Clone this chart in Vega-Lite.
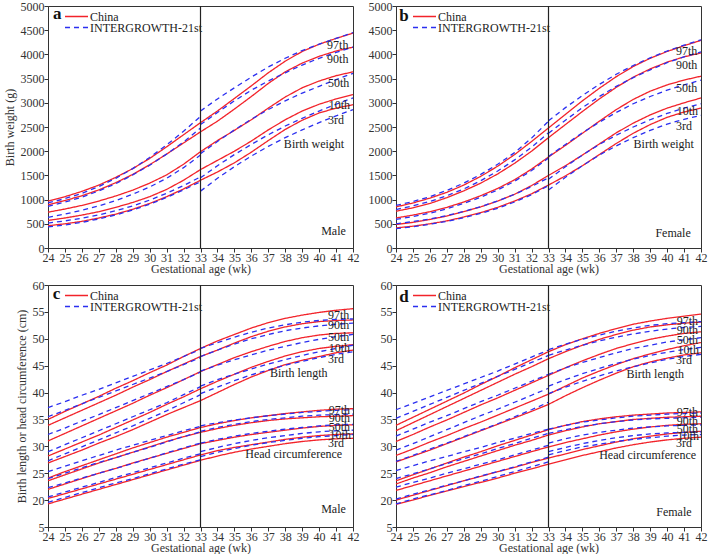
{
"$schema":"https://vega.github.io/schema/vega-lite/v6.json",
"padding":{"left":2,"top":-1,"right":0,"bottom":0},
"columns":2,
"spacing":{"row":3,"column":7},
"resolve":{"scale":{"color":"independent","strokeDash":"independent"},"legend":{"color":"independent","strokeDash":"independent"}},
"config":{
 "font":"Liberation Serif",
 "view":{"stroke":"#333","strokeWidth":1},
 "axis":{"labelFont":"Liberation Serif","titleFont":"Liberation Serif","labelFontSize":12,"titleFontSize":12,"titleFontWeight":"normal","labelColor":"#333","titleColor":"#333","domainColor":"#333","tickColor":"#333","tickSize":4,"labelPadding":0,"titlePadding":0,"grid":false,"labelOverlap":false,"labelFlush":false},
 "legend":{"labelFont":"Liberation Serif","labelFontSize":12,"labelColor":"#222","symbolType":"stroke","symbolSize":530,"symbolStrokeWidth":1.5,"clipHeight":9,"rowPadding":-5,"labelOffset":1,"padding":0,"labelLimit":200},
 "text":{"font":"Liberation Serif"}
},
"datasets":{
"male_weight":[
{"source":"China","segment":"all","week":24,"p3":460,"p10":570,"p50":740,"p90":890,"p97":970},
{"source":"China","segment":"all","week":25,"p3":500,"p10":620,"p50":805,"p90":980,"p97":1060},
{"source":"China","segment":"all","week":26,"p3":550,"p10":680,"p50":880,"p90":1080,"p97":1170},
{"source":"China","segment":"all","week":27,"p3":620,"p10":750,"p50":970,"p90":1200,"p97":1300},
{"source":"China","segment":"all","week":28,"p3":700,"p10":840,"p50":1075,"p90":1350,"p97":1460},
{"source":"China","segment":"all","week":29,"p3":800,"p10":940,"p50":1195,"p90":1520,"p97":1640},
{"source":"China","segment":"all","week":30,"p3":920,"p10":1060,"p50":1340,"p90":1720,"p97":1850},
{"source":"China","segment":"all","week":31,"p3":1060,"p10":1210,"p50":1510,"p90":1940,"p97":2090},
{"source":"China","segment":"all","week":32,"p3":1220,"p10":1400,"p50":1730,"p90":2170,"p97":2340},
{"source":"China","segment":"all","week":33,"p3":1400,"p10":1620,"p50":1990,"p90":2400,"p97":2590},
{"source":"China","segment":"all","week":34,"p3":1570,"p10":1810,"p50":2220,"p90":2620,"p97":2830},
{"source":"China","segment":"all","week":35,"p3":1760,"p10":2000,"p50":2430,"p90":2870,"p97":3090},
{"source":"China","segment":"all","week":36,"p3":1980,"p10":2210,"p50":2650,"p90":3130,"p97":3350},
{"source":"China","segment":"all","week":37,"p3":2220,"p10":2440,"p50":2890,"p90":3400,"p97":3620},
{"source":"China","segment":"all","week":38,"p3":2450,"p10":2650,"p50":3120,"p90":3640,"p97":3860},
{"source":"China","segment":"all","week":39,"p3":2640,"p10":2830,"p50":3310,"p90":3820,"p97":4060},
{"source":"China","segment":"all","week":40,"p3":2790,"p10":2970,"p50":3450,"p90":3960,"p97":4210},
{"source":"China","segment":"all","week":41,"p3":2890,"p10":3080,"p50":3560,"p90":4070,"p97":4330},
{"source":"China","segment":"all","week":42,"p3":2960,"p10":3170,"p50":3640,"p90":4150,"p97":4440},
{"source":"INTERGROWTH-21st","segment":"pre","week":24,"p3":435,"p10":515,"p50":635,"p90":860,"p97":930},
{"source":"INTERGROWTH-21st","segment":"pre","week":25,"p3":475,"p10":560,"p50":700,"p90":950,"p97":1020},
{"source":"INTERGROWTH-21st","segment":"pre","week":26,"p3":530,"p10":615,"p50":780,"p90":1050,"p97":1130},
{"source":"INTERGROWTH-21st","segment":"pre","week":27,"p3":600,"p10":685,"p50":870,"p90":1180,"p97":1270},
{"source":"INTERGROWTH-21st","segment":"pre","week":28,"p3":685,"p10":770,"p50":980,"p90":1330,"p97":1440},
{"source":"INTERGROWTH-21st","segment":"pre","week":29,"p3":785,"p10":870,"p50":1110,"p90":1510,"p97":1640},
{"source":"INTERGROWTH-21st","segment":"pre","week":30,"p3":905,"p10":990,"p50":1260,"p90":1710,"p97":1870},
{"source":"INTERGROWTH-21st","segment":"pre","week":31,"p3":1045,"p10":1130,"p50":1440,"p90":1940,"p97":2130},
{"source":"INTERGROWTH-21st","segment":"pre","week":32,"p3":1200,"p10":1290,"p50":1660,"p90":2190,"p97":2410},
{"source":"INTERGROWTH-21st","segment":"pre","week":33,"p3":1370,"p10":1470,"p50":1920,"p90":2480,"p97":2720},
{"source":"INTERGROWTH-21st","segment":"post","week":33,"p3":1175,"p10":1450,"p50":1950,"p90":2550,"p97":2830},
{"source":"INTERGROWTH-21st","segment":"post","week":34,"p3":1440,"p10":1700,"p50":2200,"p90":2800,"p97":3080},
{"source":"INTERGROWTH-21st","segment":"post","week":35,"p3":1680,"p10":1930,"p50":2440,"p90":3040,"p97":3310},
{"source":"INTERGROWTH-21st","segment":"post","week":36,"p3":1900,"p10":2140,"p50":2660,"p90":3260,"p97":3530},
{"source":"INTERGROWTH-21st","segment":"post","week":37,"p3":2100,"p10":2340,"p50":2860,"p90":3450,"p97":3740},
{"source":"INTERGROWTH-21st","segment":"post","week":38,"p3":2280,"p10":2520,"p50":3040,"p90":3620,"p97":3920},
{"source":"INTERGROWTH-21st","segment":"post","week":39,"p3":2440,"p10":2680,"p50":3200,"p90":3780,"p97":4080},
{"source":"INTERGROWTH-21st","segment":"post","week":40,"p3":2590,"p10":2830,"p50":3340,"p90":3920,"p97":4210},
{"source":"INTERGROWTH-21st","segment":"post","week":41,"p3":2730,"p10":2970,"p50":3480,"p90":4040,"p97":4330},
{"source":"INTERGROWTH-21st","segment":"post","week":42,"p3":2860,"p10":3100,"p50":3610,"p90":4150,"p97":4450}
],
"female_weight":[
{"source":"China","segment":"all","week":24,"p3":415,"p10":485,"p50":620,"p90":760,"p97":850},
{"source":"China","segment":"all","week":25,"p3":450,"p10":530,"p50":680,"p90":830,"p97":930},
{"source":"China","segment":"all","week":26,"p3":500,"p10":590,"p50":750,"p90":920,"p97":1030},
{"source":"China","segment":"all","week":27,"p3":560,"p10":660,"p50":840,"p90":1040,"p97":1150},
{"source":"China","segment":"all","week":28,"p3":640,"p10":750,"p50":950,"p90":1180,"p97":1300},
{"source":"China","segment":"all","week":29,"p3":730,"p10":850,"p50":1080,"p90":1340,"p97":1480},
{"source":"China","segment":"all","week":30,"p3":840,"p10":970,"p50":1230,"p90":1530,"p97":1690},
{"source":"China","segment":"all","week":31,"p3":970,"p10":1110,"p50":1410,"p90":1750,"p97":1930},
{"source":"China","segment":"all","week":32,"p3":1120,"p10":1290,"p50":1630,"p90":2000,"p97":2200},
{"source":"China","segment":"all","week":33,"p3":1300,"p10":1500,"p50":1880,"p90":2280,"p97":2480},
{"source":"China","segment":"all","week":34,"p3":1490,"p10":1700,"p50":2120,"p90":2550,"p97":2760},
{"source":"China","segment":"all","week":35,"p3":1700,"p10":1920,"p50":2370,"p90":2820,"p97":3040},
{"source":"China","segment":"all","week":36,"p3":1930,"p10":2150,"p50":2620,"p90":3080,"p97":3300},
{"source":"China","segment":"all","week":37,"p3":2160,"p10":2380,"p50":2860,"p90":3320,"p97":3540},
{"source":"China","segment":"all","week":38,"p3":2370,"p10":2580,"p50":3070,"p90":3530,"p97":3750},
{"source":"China","segment":"all","week":39,"p3":2550,"p10":2750,"p50":3240,"p90":3700,"p97":3920},
{"source":"China","segment":"all","week":40,"p3":2700,"p10":2890,"p50":3370,"p90":3840,"p97":4060},
{"source":"China","segment":"all","week":41,"p3":2810,"p10":3000,"p50":3470,"p90":3950,"p97":4180},
{"source":"China","segment":"all","week":42,"p3":2890,"p10":3100,"p50":3550,"p90":4030,"p97":4290},
{"source":"INTERGROWTH-21st","segment":"pre","week":24,"p3":400,"p10":500,"p50":590,"p90":795,"p97":880},
{"source":"INTERGROWTH-21st","segment":"pre","week":25,"p3":440,"p10":545,"p50":650,"p90":870,"p97":960},
{"source":"INTERGROWTH-21st","segment":"pre","week":26,"p3":490,"p10":600,"p50":720,"p90":960,"p97":1060},
{"source":"INTERGROWTH-21st","segment":"pre","week":27,"p3":550,"p10":670,"p50":810,"p90":1080,"p97":1190},
{"source":"INTERGROWTH-21st","segment":"pre","week":28,"p3":625,"p10":755,"p50":920,"p90":1220,"p97":1340},
{"source":"INTERGROWTH-21st","segment":"pre","week":29,"p3":715,"p10":855,"p50":1050,"p90":1390,"p97":1520},
{"source":"INTERGROWTH-21st","segment":"pre","week":30,"p3":820,"p10":970,"p50":1200,"p90":1590,"p97":1730},
{"source":"INTERGROWTH-21st","segment":"pre","week":31,"p3":950,"p10":1110,"p50":1380,"p90":1820,"p97":1970},
{"source":"INTERGROWTH-21st","segment":"pre","week":32,"p3":1100,"p10":1270,"p50":1600,"p90":2080,"p97":2270},
{"source":"INTERGROWTH-21st","segment":"pre","week":33,"p3":1290,"p10":1450,"p50":1860,"p90":2380,"p97":2620},
{"source":"INTERGROWTH-21st","segment":"post","week":33,"p3":1200,"p10":1420,"p50":1890,"p90":2370,"p97":2630},
{"source":"INTERGROWTH-21st","segment":"post","week":34,"p3":1460,"p10":1680,"p50":2140,"p90":2640,"p97":2900},
{"source":"INTERGROWTH-21st","segment":"post","week":35,"p3":1700,"p10":1920,"p50":2380,"p90":2900,"p97":3150},
{"source":"INTERGROWTH-21st","segment":"post","week":36,"p3":1920,"p10":2140,"p50":2600,"p90":3130,"p97":3380},
{"source":"INTERGROWTH-21st","segment":"post","week":37,"p3":2110,"p10":2330,"p50":2800,"p90":3340,"p97":3590},
{"source":"INTERGROWTH-21st","segment":"post","week":38,"p3":2280,"p10":2500,"p50":2980,"p90":3520,"p97":3770},
{"source":"INTERGROWTH-21st","segment":"post","week":39,"p3":2430,"p10":2650,"p50":3130,"p90":3680,"p97":3930},
{"source":"INTERGROWTH-21st","segment":"post","week":40,"p3":2560,"p10":2780,"p50":3260,"p90":3830,"p97":4070},
{"source":"INTERGROWTH-21st","segment":"post","week":41,"p3":2660,"p10":2890,"p50":3370,"p90":3950,"p97":4190},
{"source":"INTERGROWTH-21st","segment":"post","week":42,"p3":2740,"p10":2980,"p50":3470,"p90":4050,"p97":4300}
],
"male_size":[
{"source":"China","measure":"L","segment":"all","week":24,"p3":26.9,"p10":28.2,"p50":31.0,"p90":33.9,"p97":35.0},
{"source":"China","measure":"L","segment":"all","week":25,"p3":28.1,"p10":29.5,"p50":32.4,"p90":35.3,"p97":36.5},
{"source":"China","measure":"L","segment":"all","week":26,"p3":29.3,"p10":30.8,"p50":33.8,"p90":36.7,"p97":37.9},
{"source":"China","measure":"L","segment":"all","week":27,"p3":30.6,"p10":32.1,"p50":35.2,"p90":38.1,"p97":39.3},
{"source":"China","measure":"L","segment":"all","week":28,"p3":31.8,"p10":33.5,"p50":36.6,"p90":39.5,"p97":40.8},
{"source":"China","measure":"L","segment":"all","week":29,"p3":33.1,"p10":34.9,"p50":38.0,"p90":41.0,"p97":42.2},
{"source":"China","measure":"L","segment":"all","week":30,"p3":34.5,"p10":36.3,"p50":39.5,"p90":42.4,"p97":43.7},
{"source":"China","measure":"L","segment":"all","week":31,"p3":35.9,"p10":37.8,"p50":40.9,"p90":43.9,"p97":45.1},
{"source":"China","measure":"L","segment":"all","week":32,"p3":37.2,"p10":39.2,"p50":42.4,"p90":45.3,"p97":46.7},
{"source":"China","measure":"L","segment":"all","week":33,"p3":38.5,"p10":40.7,"p50":43.9,"p90":46.7,"p97":48.2},
{"source":"China","measure":"L","segment":"all","week":34,"p3":40.0,"p10":42.1,"p50":45.2,"p90":47.9,"p97":49.6},
{"source":"China","measure":"L","segment":"all","week":35,"p3":41.5,"p10":43.4,"p50":46.5,"p90":49.2,"p97":50.8},
{"source":"China","measure":"L","segment":"all","week":36,"p3":42.9,"p10":44.7,"p50":47.6,"p90":50.4,"p97":52.0},
{"source":"China","measure":"L","segment":"all","week":37,"p3":44.1,"p10":45.8,"p50":48.6,"p90":51.4,"p97":53.0},
{"source":"China","measure":"L","segment":"all","week":38,"p3":45.2,"p10":46.8,"p50":49.5,"p90":52.2,"p97":53.8},
{"source":"China","measure":"L","segment":"all","week":39,"p3":46.0,"p10":47.6,"p50":50.2,"p90":52.8,"p97":54.4},
{"source":"China","measure":"L","segment":"all","week":40,"p3":46.7,"p10":48.2,"p50":50.7,"p90":53.2,"p97":54.9},
{"source":"China","measure":"L","segment":"all","week":41,"p3":47.4,"p10":48.6,"p50":51.0,"p90":53.4,"p97":55.3},
{"source":"China","measure":"L","segment":"all","week":42,"p3":47.9,"p10":48.9,"p50":51.1,"p90":53.5,"p97":55.6},
{"source":"China","measure":"H","segment":"all","week":24,"p3":19.3,"p10":20.3,"p50":22.0,"p90":23.6,"p97":24.1},
{"source":"China","measure":"H","segment":"all","week":25,"p3":20.2,"p10":21.2,"p50":23.0,"p90":24.7,"p97":25.3},
{"source":"China","measure":"H","segment":"all","week":26,"p3":21.1,"p10":22.1,"p50":24.0,"p90":25.8,"p97":26.4},
{"source":"China","measure":"H","segment":"all","week":27,"p3":22.0,"p10":23.0,"p50":25.0,"p90":26.9,"p97":27.5},
{"source":"China","measure":"H","segment":"all","week":28,"p3":22.9,"p10":23.9,"p50":25.9,"p90":27.9,"p97":28.6},
{"source":"China","measure":"H","segment":"all","week":29,"p3":23.8,"p10":24.8,"p50":26.9,"p90":28.9,"p97":29.7},
{"source":"China","measure":"H","segment":"all","week":30,"p3":24.7,"p10":25.7,"p50":27.8,"p90":29.9,"p97":30.7},
{"source":"China","measure":"H","segment":"all","week":31,"p3":25.6,"p10":26.6,"p50":28.7,"p90":30.9,"p97":31.7},
{"source":"China","measure":"H","segment":"all","week":32,"p3":26.5,"p10":27.5,"p50":29.6,"p90":31.8,"p97":32.6},
{"source":"China","measure":"H","segment":"all","week":33,"p3":27.4,"p10":28.4,"p50":30.5,"p90":32.6,"p97":33.5},
{"source":"China","measure":"H","segment":"all","week":34,"p3":28.2,"p10":29.2,"p50":31.1,"p90":33.3,"p97":34.2},
{"source":"China","measure":"H","segment":"all","week":35,"p3":28.9,"p10":29.8,"p50":31.7,"p90":33.9,"p97":34.8},
{"source":"China","measure":"H","segment":"all","week":36,"p3":29.5,"p10":30.3,"p50":32.2,"p90":34.4,"p97":35.3},
{"source":"China","measure":"H","segment":"all","week":37,"p3":30.0,"p10":30.8,"p50":32.6,"p90":34.8,"p97":35.7},
{"source":"China","measure":"H","segment":"all","week":38,"p3":30.5,"p10":31.3,"p50":33.0,"p90":35.1,"p97":36.1},
{"source":"China","measure":"H","segment":"all","week":39,"p3":30.9,"p10":31.7,"p50":33.4,"p90":35.3,"p97":36.4},
{"source":"China","measure":"H","segment":"all","week":40,"p3":31.2,"p10":32.0,"p50":33.7,"p90":35.5,"p97":36.7},
{"source":"China","measure":"H","segment":"all","week":41,"p3":31.4,"p10":32.2,"p50":33.9,"p90":35.6,"p97":36.9},
{"source":"China","measure":"H","segment":"all","week":42,"p3":31.5,"p10":32.3,"p50":34.0,"p90":35.7,"p97":37.0},
{"source":"INTERGROWTH-21st","measure":"L","segment":"pre","week":24,"p3":27.3,"p10":29.0,"p50":32.2,"p90":35.5,"p97":37.2},
{"source":"INTERGROWTH-21st","measure":"L","segment":"pre","week":25,"p3":28.6,"p10":30.3,"p50":33.4,"p90":36.7,"p97":38.3},
{"source":"INTERGROWTH-21st","measure":"L","segment":"pre","week":26,"p3":29.9,"p10":31.6,"p50":34.7,"p90":37.9,"p97":39.5},
{"source":"INTERGROWTH-21st","measure":"L","segment":"pre","week":27,"p3":31.2,"p10":32.9,"p50":35.9,"p90":39.1,"p97":40.6},
{"source":"INTERGROWTH-21st","measure":"L","segment":"pre","week":28,"p3":32.5,"p10":34.2,"p50":37.2,"p90":40.3,"p97":41.8},
{"source":"INTERGROWTH-21st","measure":"L","segment":"pre","week":29,"p3":33.8,"p10":35.5,"p50":38.5,"p90":41.5,"p97":43.0},
{"source":"INTERGROWTH-21st","measure":"L","segment":"pre","week":30,"p3":35.2,"p10":36.8,"p50":39.8,"p90":42.7,"p97":44.2},
{"source":"INTERGROWTH-21st","measure":"L","segment":"pre","week":31,"p3":36.6,"p10":38.1,"p50":41.1,"p90":43.9,"p97":45.4},
{"source":"INTERGROWTH-21st","measure":"L","segment":"pre","week":32,"p3":38.1,"p10":39.6,"p50":42.4,"p90":45.2,"p97":46.7},
{"source":"INTERGROWTH-21st","measure":"L","segment":"pre","week":33,"p3":39.6,"p10":41.1,"p50":43.8,"p90":46.5,"p97":48.0},
{"source":"INTERGROWTH-21st","measure":"L","segment":"post","week":33,"p3":39.8,"p10":41.2,"p50":44.0,"p90":46.7,"p97":48.2},
{"source":"INTERGROWTH-21st","measure":"L","segment":"post","week":34,"p3":41.0,"p10":42.4,"p50":45.1,"p90":47.9,"p97":49.3},
{"source":"INTERGROWTH-21st","measure":"L","segment":"post","week":35,"p3":42.2,"p10":43.4,"p50":46.1,"p90":49.0,"p97":50.3},
{"source":"INTERGROWTH-21st","measure":"L","segment":"post","week":36,"p3":43.3,"p10":44.4,"p50":47.0,"p90":50.0,"p97":51.2},
{"source":"INTERGROWTH-21st","measure":"L","segment":"post","week":37,"p3":44.2,"p10":45.3,"p50":47.9,"p90":50.8,"p97":52.0},
{"source":"INTERGROWTH-21st","measure":"L","segment":"post","week":38,"p3":45.1,"p10":46.1,"p50":48.6,"p90":51.5,"p97":52.6},
{"source":"INTERGROWTH-21st","measure":"L","segment":"post","week":39,"p3":45.8,"p10":46.9,"p50":49.3,"p90":52.0,"p97":53.1},
{"source":"INTERGROWTH-21st","measure":"L","segment":"post","week":40,"p3":46.5,"p10":47.6,"p50":49.9,"p90":52.4,"p97":53.4},
{"source":"INTERGROWTH-21st","measure":"L","segment":"post","week":41,"p3":47.1,"p10":48.2,"p50":50.4,"p90":52.7,"p97":53.6},
{"source":"INTERGROWTH-21st","measure":"L","segment":"post","week":42,"p3":47.6,"p10":48.8,"p50":50.8,"p90":52.9,"p97":53.7},
{"source":"INTERGROWTH-21st","measure":"H","segment":"pre","week":24,"p3":19.6,"p10":20.6,"p50":22.3,"p90":24.0,"p97":25.3},
{"source":"INTERGROWTH-21st","measure":"H","segment":"pre","week":25,"p3":20.5,"p10":21.5,"p50":23.2,"p90":25.0,"p97":26.3},
{"source":"INTERGROWTH-21st","measure":"H","segment":"pre","week":26,"p3":21.4,"p10":22.4,"p50":24.1,"p90":26.0,"p97":27.3},
{"source":"INTERGROWTH-21st","measure":"H","segment":"pre","week":27,"p3":22.3,"p10":23.3,"p50":25.0,"p90":27.0,"p97":28.3},
{"source":"INTERGROWTH-21st","measure":"H","segment":"pre","week":28,"p3":23.2,"p10":24.2,"p50":25.9,"p90":27.9,"p97":29.3},
{"source":"INTERGROWTH-21st","measure":"H","segment":"pre","week":29,"p3":24.0,"p10":25.1,"p50":26.8,"p90":28.9,"p97":30.2},
{"source":"INTERGROWTH-21st","measure":"H","segment":"pre","week":30,"p3":24.9,"p10":26.0,"p50":27.8,"p90":29.8,"p97":31.1},
{"source":"INTERGROWTH-21st","measure":"H","segment":"pre","week":31,"p3":25.8,"p10":26.9,"p50":28.8,"p90":30.8,"p97":32.0},
{"source":"INTERGROWTH-21st","measure":"H","segment":"pre","week":32,"p3":26.7,"p10":27.8,"p50":29.7,"p90":31.8,"p97":32.9},
{"source":"INTERGROWTH-21st","measure":"H","segment":"pre","week":33,"p3":27.5,"p10":28.6,"p50":30.6,"p90":32.7,"p97":33.7},
{"source":"INTERGROWTH-21st","measure":"H","segment":"post","week":33,"p3":28.1,"p10":29.0,"p50":30.6,"p90":32.8,"p97":33.8},
{"source":"INTERGROWTH-21st","measure":"H","segment":"post","week":34,"p3":28.9,"p10":29.8,"p50":31.3,"p90":33.5,"p97":34.4},
{"source":"INTERGROWTH-21st","measure":"H","segment":"post","week":35,"p3":29.6,"p10":30.5,"p50":31.9,"p90":34.1,"p97":34.9},
{"source":"INTERGROWTH-21st","measure":"H","segment":"post","week":36,"p3":30.2,"p10":31.1,"p50":32.4,"p90":34.6,"p97":35.3},
{"source":"INTERGROWTH-21st","measure":"H","segment":"post","week":37,"p3":30.7,"p10":31.6,"p50":32.8,"p90":35.0,"p97":35.7},
{"source":"INTERGROWTH-21st","measure":"H","segment":"post","week":38,"p3":31.1,"p10":32.0,"p50":33.2,"p90":35.3,"p97":36.0},
{"source":"INTERGROWTH-21st","measure":"H","segment":"post","week":39,"p3":31.5,"p10":32.4,"p50":33.5,"p90":35.6,"p97":36.3},
{"source":"INTERGROWTH-21st","measure":"H","segment":"post","week":40,"p3":31.8,"p10":32.7,"p50":33.8,"p90":35.8,"p97":36.5},
{"source":"INTERGROWTH-21st","measure":"H","segment":"post","week":41,"p3":32.0,"p10":32.9,"p50":34.0,"p90":35.9,"p97":36.7},
{"source":"INTERGROWTH-21st","measure":"H","segment":"post","week":42,"p3":32.2,"p10":33.0,"p50":34.1,"p90":36.0,"p97":36.8}
],
"female_size":[
{"source":"China","measure":"L","segment":"all","week":24,"p3":27.1,"p10":28.3,"p50":30.9,"p90":32.9,"p97":33.9},
{"source":"China","measure":"L","segment":"all","week":25,"p3":28.2,"p10":29.5,"p50":32.2,"p90":34.4,"p97":35.4},
{"source":"China","measure":"L","segment":"all","week":26,"p3":29.3,"p10":30.8,"p50":33.6,"p90":35.9,"p97":36.9},
{"source":"China","measure":"L","segment":"all","week":27,"p3":30.5,"p10":32.0,"p50":34.9,"p90":37.4,"p97":38.4},
{"source":"China","measure":"L","segment":"all","week":28,"p3":31.7,"p10":33.3,"p50":36.3,"p90":38.9,"p97":39.9},
{"source":"China","measure":"L","segment":"all","week":29,"p3":32.9,"p10":34.5,"p50":37.7,"p90":40.4,"p97":41.5},
{"source":"China","measure":"L","segment":"all","week":30,"p3":34.1,"p10":35.8,"p50":39.0,"p90":41.9,"p97":43.0},
{"source":"China","measure":"L","segment":"all","week":31,"p3":35.3,"p10":37.1,"p50":40.4,"p90":43.4,"p97":44.6},
{"source":"China","measure":"L","segment":"all","week":32,"p3":36.5,"p10":38.4,"p50":41.8,"p90":44.8,"p97":46.1},
{"source":"China","measure":"L","segment":"all","week":33,"p3":37.8,"p10":39.7,"p50":43.2,"p90":46.3,"p97":47.6},
{"source":"China","measure":"L","segment":"all","week":34,"p3":39.4,"p10":41.2,"p50":44.6,"p90":47.6,"p97":48.9},
{"source":"China","measure":"L","segment":"all","week":35,"p3":40.9,"p10":42.7,"p50":45.9,"p90":48.8,"p97":50.0},
{"source":"China","measure":"L","segment":"all","week":36,"p3":42.3,"p10":44.0,"p50":47.1,"p90":49.9,"p97":51.0},
{"source":"China","measure":"L","segment":"all","week":37,"p3":43.6,"p10":45.2,"p50":48.2,"p90":50.8,"p97":51.9},
{"source":"China","measure":"L","segment":"all","week":38,"p3":44.8,"p10":46.3,"p50":49.1,"p90":51.6,"p97":52.7},
{"source":"China","measure":"L","segment":"all","week":39,"p3":45.7,"p10":47.2,"p50":49.9,"p90":52.2,"p97":53.3},
{"source":"China","measure":"L","segment":"all","week":40,"p3":46.4,"p10":48.0,"p50":50.5,"p90":52.6,"p97":53.8},
{"source":"China","measure":"L","segment":"all","week":41,"p3":47.0,"p10":48.7,"p50":51.0,"p90":52.9,"p97":54.2},
{"source":"China","measure":"L","segment":"all","week":42,"p3":47.4,"p10":49.3,"p50":51.3,"p90":53.1,"p97":54.6},
{"source":"China","measure":"H","segment":"all","week":24,"p3":19.2,"p10":20.0,"p50":21.8,"p90":23.0,"p97":23.6},
{"source":"China","measure":"H","segment":"all","week":25,"p3":20.0,"p10":20.9,"p50":22.7,"p90":24.1,"p97":24.7},
{"source":"China","measure":"H","segment":"all","week":26,"p3":20.9,"p10":21.8,"p50":23.6,"p90":25.1,"p97":25.8},
{"source":"China","measure":"H","segment":"all","week":27,"p3":21.7,"p10":22.7,"p50":24.5,"p90":26.2,"p97":26.9},
{"source":"China","measure":"H","segment":"all","week":28,"p3":22.5,"p10":23.6,"p50":25.4,"p90":27.2,"p97":28.0},
{"source":"China","measure":"H","segment":"all","week":29,"p3":23.3,"p10":24.4,"p50":26.3,"p90":28.2,"p97":29.0},
{"source":"China","measure":"H","segment":"all","week":30,"p3":24.1,"p10":25.3,"p50":27.2,"p90":29.2,"p97":30.1},
{"source":"China","measure":"H","segment":"all","week":31,"p3":25.0,"p10":26.1,"p50":28.1,"p90":30.2,"p97":31.1},
{"source":"China","measure":"H","segment":"all","week":32,"p3":25.8,"p10":27.0,"p50":29.0,"p90":31.1,"p97":32.1},
{"source":"China","measure":"H","segment":"all","week":33,"p3":26.7,"p10":27.8,"p50":29.9,"p90":32.1,"p97":33.1},
{"source":"China","measure":"H","segment":"all","week":34,"p3":27.5,"p10":28.6,"p50":30.7,"p90":32.9,"p97":33.9},
{"source":"China","measure":"H","segment":"all","week":35,"p3":28.3,"p10":29.4,"p50":31.4,"p90":33.6,"p97":34.6},
{"source":"China","measure":"H","segment":"all","week":36,"p3":29.0,"p10":30.1,"p50":32.1,"p90":34.2,"p97":35.1},
{"source":"China","measure":"H","segment":"all","week":37,"p3":29.7,"p10":30.8,"p50":32.7,"p90":34.6,"p97":35.5},
{"source":"China","measure":"H","segment":"all","week":38,"p3":30.3,"p10":31.4,"p50":33.2,"p90":35.0,"p97":35.8},
{"source":"China","measure":"H","segment":"all","week":39,"p3":30.8,"p10":31.9,"p50":33.6,"p90":35.2,"p97":36.0},
{"source":"China","measure":"H","segment":"all","week":40,"p3":31.2,"p10":32.3,"p50":33.9,"p90":35.4,"p97":36.2},
{"source":"China","measure":"H","segment":"all","week":41,"p3":31.5,"p10":32.6,"p50":34.1,"p90":35.5,"p97":36.3},
{"source":"China","measure":"H","segment":"all","week":42,"p3":31.7,"p10":32.8,"p50":34.2,"p90":35.6,"p97":36.4},
{"source":"INTERGROWTH-21st","measure":"L","segment":"pre","week":24,"p3":27.2,"p10":29.3,"p50":31.9,"p90":35.2,"p97":36.8},
{"source":"INTERGROWTH-21st","measure":"L","segment":"pre","week":25,"p3":28.3,"p10":30.5,"p50":33.2,"p90":36.5,"p97":38.0},
{"source":"INTERGROWTH-21st","measure":"L","segment":"pre","week":26,"p3":29.5,"p10":31.8,"p50":34.5,"p90":37.8,"p97":39.2},
{"source":"INTERGROWTH-21st","measure":"L","segment":"pre","week":27,"p3":30.6,"p10":33.1,"p50":35.7,"p90":39.1,"p97":40.4},
{"source":"INTERGROWTH-21st","measure":"L","segment":"pre","week":28,"p3":31.8,"p10":34.4,"p50":37.0,"p90":40.4,"p97":41.6},
{"source":"INTERGROWTH-21st","measure":"L","segment":"pre","week":29,"p3":33.0,"p10":35.7,"p50":38.3,"p90":41.7,"p97":42.8},
{"source":"INTERGROWTH-21st","measure":"L","segment":"pre","week":30,"p3":34.2,"p10":36.9,"p50":39.5,"p90":43.0,"p97":44.0},
{"source":"INTERGROWTH-21st","measure":"L","segment":"pre","week":31,"p3":35.5,"p10":38.2,"p50":40.8,"p90":44.3,"p97":45.3},
{"source":"INTERGROWTH-21st","measure":"L","segment":"pre","week":32,"p3":36.8,"p10":39.5,"p50":42.1,"p90":45.6,"p97":46.6},
{"source":"INTERGROWTH-21st","measure":"L","segment":"pre","week":33,"p3":38.2,"p10":40.8,"p50":43.4,"p90":46.9,"p97":47.9},
{"source":"INTERGROWTH-21st","measure":"L","segment":"post","week":33,"p3":39.8,"p10":41.2,"p50":43.4,"p90":46.9,"p97":48.0},
{"source":"INTERGROWTH-21st","measure":"L","segment":"post","week":34,"p3":41.0,"p10":42.4,"p50":44.6,"p90":47.9,"p97":49.0},
{"source":"INTERGROWTH-21st","measure":"L","segment":"post","week":35,"p3":42.1,"p10":43.5,"p50":45.6,"p90":48.8,"p97":49.9},
{"source":"INTERGROWTH-21st","measure":"L","segment":"post","week":36,"p3":43.1,"p10":44.5,"p50":46.5,"p90":49.6,"p97":50.7},
{"source":"INTERGROWTH-21st","measure":"L","segment":"post","week":37,"p3":44.0,"p10":45.4,"p50":47.4,"p90":50.3,"p97":51.4},
{"source":"INTERGROWTH-21st","measure":"L","segment":"post","week":38,"p3":44.8,"p10":46.2,"p50":48.2,"p90":50.9,"p97":52.0},
{"source":"INTERGROWTH-21st","measure":"L","segment":"post","week":39,"p3":45.5,"p10":46.9,"p50":48.8,"p90":51.4,"p97":52.5},
{"source":"INTERGROWTH-21st","measure":"L","segment":"post","week":40,"p3":46.2,"p10":47.5,"p50":49.4,"p90":51.8,"p97":52.8},
{"source":"INTERGROWTH-21st","measure":"L","segment":"post","week":41,"p3":46.7,"p10":48.0,"p50":49.8,"p90":52.1,"p97":53.0},
{"source":"INTERGROWTH-21st","measure":"L","segment":"post","week":42,"p3":47.1,"p10":48.4,"p50":50.2,"p90":52.3,"p97":53.2},
{"source":"INTERGROWTH-21st","measure":"H","segment":"pre","week":24,"p3":19.3,"p10":20.2,"p50":22.4,"p90":24.0,"p97":25.5},
{"source":"INTERGROWTH-21st","measure":"H","segment":"pre","week":25,"p3":20.2,"p10":21.1,"p50":23.3,"p90":24.9,"p97":26.4},
{"source":"INTERGROWTH-21st","measure":"H","segment":"pre","week":26,"p3":21.0,"p10":21.9,"p50":24.1,"p90":25.8,"p97":27.3},
{"source":"INTERGROWTH-21st","measure":"H","segment":"pre","week":27,"p3":21.8,"p10":22.8,"p50":25.0,"p90":26.8,"p97":28.1},
{"source":"INTERGROWTH-21st","measure":"H","segment":"pre","week":28,"p3":22.7,"p10":23.6,"p50":25.8,"p90":27.7,"p97":29.0},
{"source":"INTERGROWTH-21st","measure":"H","segment":"pre","week":29,"p3":23.5,"p10":24.5,"p50":26.7,"p90":28.6,"p97":29.8},
{"source":"INTERGROWTH-21st","measure":"H","segment":"pre","week":30,"p3":24.4,"p10":25.3,"p50":27.5,"p90":29.6,"p97":30.7},
{"source":"INTERGROWTH-21st","measure":"H","segment":"pre","week":31,"p3":25.3,"p10":26.2,"p50":28.4,"p90":30.5,"p97":31.5},
{"source":"INTERGROWTH-21st","measure":"H","segment":"pre","week":32,"p3":26.2,"p10":27.1,"p50":29.3,"p90":31.5,"p97":32.4},
{"source":"INTERGROWTH-21st","measure":"H","segment":"pre","week":33,"p3":27.1,"p10":28.0,"p50":30.2,"p90":32.4,"p97":33.2},
{"source":"INTERGROWTH-21st","measure":"H","segment":"post","week":33,"p3":28.4,"p10":29.0,"p50":30.6,"p90":32.4,"p97":33.2},
{"source":"INTERGROWTH-21st","measure":"H","segment":"post","week":34,"p3":29.2,"p10":29.8,"p50":31.4,"p90":33.1,"p97":33.9},
{"source":"INTERGROWTH-21st","measure":"H","segment":"post","week":35,"p3":29.9,"p10":30.5,"p50":32.1,"p90":33.7,"p97":34.5},
{"source":"INTERGROWTH-21st","measure":"H","segment":"post","week":36,"p3":30.4,"p10":31.1,"p50":32.6,"p90":34.2,"p97":34.9},
{"source":"INTERGROWTH-21st","measure":"H","segment":"post","week":37,"p3":30.9,"p10":31.6,"p50":33.0,"p90":34.6,"p97":35.3},
{"source":"INTERGROWTH-21st","measure":"H","segment":"post","week":38,"p3":31.3,"p10":32.0,"p50":33.4,"p90":34.9,"p97":35.6},
{"source":"INTERGROWTH-21st","measure":"H","segment":"post","week":39,"p3":31.6,"p10":32.3,"p50":33.6,"p90":35.1,"p97":35.8},
{"source":"INTERGROWTH-21st","measure":"H","segment":"post","week":40,"p3":31.9,"p10":32.5,"p50":33.8,"p90":35.2,"p97":36.0},
{"source":"INTERGROWTH-21st","measure":"H","segment":"post","week":41,"p3":32.1,"p10":32.6,"p50":33.9,"p90":35.3,"p97":36.1},
{"source":"INTERGROWTH-21st","measure":"H","segment":"post","week":42,"p3":32.2,"p10":32.7,"p50":34.0,"p90":35.4,"p97":36.2}
],
"a_text":[
{"kind":"label","week":41.1,"value":4190,"text":"97th"},
{"kind":"label","week":41.1,"value":3900,"text":"90th"},
{"kind":"label","week":41.15,"value":3410,"text":"50th"},
{"kind":"label","week":41.2,"value":2960,"text":"10th"},
{"kind":"label","week":41.0,"value":2640,"text":"3rd"},
{"kind":"label","week":39.7,"value":2140,"text":"Birth weight"},
{"kind":"label","week":40.85,"value":360,"text":"Male"},
{"kind":"letter","week":24.55,"value":4830,"text":"a"}
],
"b_text":[
{"kind":"label","week":41.15,"value":4070,"text":"97th"},
{"kind":"label","week":41.15,"value":3780,"text":"90th"},
{"kind":"label","week":41.15,"value":3300,"text":"50th"},
{"kind":"label","week":41.2,"value":2830,"text":"10th"},
{"kind":"label","week":41.0,"value":2520,"text":"3rd"},
{"kind":"label","week":39.8,"value":2140,"text":"Birth weight"},
{"kind":"label","week":40.35,"value":310,"text":"Female"},
{"kind":"letter","week":24.47,"value":4800,"text":"b"}
],
"c_text":[
{"kind":"label","week":41.15,"value":54.4,"text":"97th"},
{"kind":"label","week":41.15,"value":52.5,"text":"90th"},
{"kind":"label","week":41.15,"value":50.3,"text":"50th"},
{"kind":"label","week":41.2,"value":48.3,"text":"10th"},
{"kind":"label","week":41.0,"value":46.3,"text":"3rd"},
{"kind":"label","week":38.8,"value":43.6,"text":"Birth length"},
{"kind":"label","week":41.2,"value":36.7,"text":"97th"},
{"kind":"label","week":41.2,"value":35.25,"text":"90th"},
{"kind":"label","week":41.2,"value":33.6,"text":"50th"},
{"kind":"label","week":41.25,"value":32.2,"text":"10th"},
{"kind":"label","week":41.0,"value":30.6,"text":"3rd"},
{"kind":"label","week":38.5,"value":28.5,"text":"Head circumference"},
{"kind":"label","week":40.85,"value":18.4,"text":"Male"},
{"kind":"letter","week":24.5,"value":58.3,"text":"c"}
],
"d_text":[
{"kind":"label","week":41.2,"value":53.3,"text":"97th"},
{"kind":"label","week":41.2,"value":51.6,"text":"90th"},
{"kind":"label","week":41.2,"value":49.7,"text":"50th"},
{"kind":"label","week":41.25,"value":48.0,"text":"10th"},
{"kind":"label","week":41.0,"value":46.1,"text":"3rd"},
{"kind":"label","week":39.3,"value":43.5,"text":"Birth length"},
{"kind":"label","week":41.2,"value":36.4,"text":"97th"},
{"kind":"label","week":41.2,"value":34.8,"text":"90th"},
{"kind":"label","week":41.2,"value":33.3,"text":"50th"},
{"kind":"label","week":41.25,"value":32.0,"text":"10th"},
{"kind":"label","week":41.0,"value":30.6,"text":"3rd"},
{"kind":"label","week":38.85,"value":28.4,"text":"Head circumference"},
{"kind":"label","week":40.4,"value":17.7,"text":"Female"},
{"kind":"letter","week":24.47,"value":57.8,"text":"d"}
]
},
"concat":[
{"width":305,"height":242,"layer":[
 {"data":{"name":"male_weight"},"transform":[{"fold":["p3","p10","p50","p90","p97"],"as":["pct","value"]}],
  "mark":{"type":"line","strokeWidth":1.3},
  "encoding":{
   "x":{"field":"week","type":"quantitative","scale":{"domain":[24,42],"nice":false,"zero":false},"axis":{"title":"Gestational age (wk)","values":[24,25,26,27,28,29,30,31,32,33,34,35,36,37,38,39,40,41,42],"format":"d","labelOverlap":false}},
   "y":{"field":"value","type":"quantitative","scale":{"domain":[0,5000],"nice":false},"axis":{"title":"Birth weight (g)","values":[0,500,1000,1500,2000,2500,3000,3500,4000,4500,5000],"format":"d","titlePadding":4,"labelOverlap":false}},
   "color":{"field":"source","type":"nominal","title":null,"scale":{"domain":["China","INTERGROWTH-21st"],"range":["#f2232a","#2b2ff0"]},"legend":{"orient":"none","legendX":16,"legendY":6}},
   "strokeDash":{"field":"source","type":"nominal","title":null,"scale":{"domain":["China","INTERGROWTH-21st"],"range":[[1,0],[5,4]]},"legend":{"orient":"none","legendX":16,"legendY":6}},
   "detail":[{"field":"segment"},{"field":"pct"}]}},
 {"data":{"values":[{}]},"mark":{"type":"rule","color":"#222","strokeWidth":1.2},"encoding":{"x":{"datum":33,"axis":{"title":"Gestational age (wk)","values":[24,25,26,27,28,29,30,31,32,33,34,35,36,37,38,39,40,41,42],"format":"d","labelOverlap":false}}}},
 {"data":{"name":"a_text"},"transform":[{"filter":"datum.kind == 'label'"}],"mark":{"type":"text","fontSize":12,"color":"#222"},
  "encoding":{"x":{"field":"week","type":"quantitative","axis":{"title":"Gestational age (wk)","values":[24,25,26,27,28,29,30,31,32,33,34,35,36,37,38,39,40,41,42],"format":"d","labelOverlap":false}},"y":{"field":"value","type":"quantitative","axis":{"title":"Birth weight (g)","values":[0,500,1000,1500,2000,2500,3000,3500,4000,4500,5000],"format":"d","titlePadding":4,"labelOverlap":false}},"text":{"field":"text"}}},
 {"data":{"name":"a_text"},"transform":[{"filter":"datum.kind == 'letter'"}],"mark":{"type":"text","fontSize":17,"fontWeight":"bold","color":"#111"},
  "encoding":{"x":{"field":"week","type":"quantitative","axis":{"title":"Gestational age (wk)","values":[24,25,26,27,28,29,30,31,32,33,34,35,36,37,38,39,40,41,42],"format":"d","labelOverlap":false}},"y":{"field":"value","type":"quantitative","axis":{"title":"Birth weight (g)","values":[0,500,1000,1500,2000,2500,3000,3500,4000,4500,5000],"format":"d","titlePadding":4,"labelOverlap":false}},"text":{"field":"text"}}}
]},
{"width":305,"height":242,"layer":[
 {"data":{"name":"female_weight"},"transform":[{"fold":["p3","p10","p50","p90","p97"],"as":["pct","value"]}],
  "mark":{"type":"line","strokeWidth":1.3},
  "encoding":{
   "x":{"field":"week","type":"quantitative","scale":{"domain":[24,42],"nice":false,"zero":false},"axis":{"title":"Gestational age (wk)","values":[24,25,26,27,28,29,30,31,32,33,34,35,36,37,38,39,40,41,42],"format":"d","labelOverlap":false}},
   "y":{"field":"value","type":"quantitative","scale":{"domain":[0,5000],"nice":false},"axis":{"title":null,"values":[0,500,1000,1500,2000,2500,3000,3500,4000,4500,5000],"format":"d","labelOverlap":false}},
   "color":{"field":"source","type":"nominal","title":null,"scale":{"domain":["China","INTERGROWTH-21st"],"range":["#f2232a","#2b2ff0"]},"legend":{"orient":"none","legendX":16,"legendY":6}},
   "strokeDash":{"field":"source","type":"nominal","title":null,"scale":{"domain":["China","INTERGROWTH-21st"],"range":[[1,0],[5,4]]},"legend":{"orient":"none","legendX":16,"legendY":6}},
   "detail":[{"field":"segment"},{"field":"pct"}]}},
 {"data":{"values":[{}]},"mark":{"type":"rule","color":"#222","strokeWidth":1.2},"encoding":{"x":{"datum":33,"axis":{"title":"Gestational age (wk)","values":[24,25,26,27,28,29,30,31,32,33,34,35,36,37,38,39,40,41,42],"format":"d","labelOverlap":false}}}},
 {"data":{"name":"b_text"},"transform":[{"filter":"datum.kind == 'label'"}],"mark":{"type":"text","fontSize":12,"color":"#222"},
  "encoding":{"x":{"field":"week","type":"quantitative","axis":{"title":"Gestational age (wk)","values":[24,25,26,27,28,29,30,31,32,33,34,35,36,37,38,39,40,41,42],"format":"d","labelOverlap":false}},"y":{"field":"value","type":"quantitative","axis":{"title":null,"values":[0,500,1000,1500,2000,2500,3000,3500,4000,4500,5000],"format":"d","labelOverlap":false}},"text":{"field":"text"}}},
 {"data":{"name":"b_text"},"transform":[{"filter":"datum.kind == 'letter'"}],"mark":{"type":"text","fontSize":17,"fontWeight":"bold","color":"#111"},
  "encoding":{"x":{"field":"week","type":"quantitative","axis":{"title":"Gestational age (wk)","values":[24,25,26,27,28,29,30,31,32,33,34,35,36,37,38,39,40,41,42],"format":"d","labelOverlap":false}},"y":{"field":"value","type":"quantitative","axis":{"title":null,"values":[0,500,1000,1500,2000,2500,3000,3500,4000,4500,5000],"format":"d","labelOverlap":false}},"text":{"field":"text"}}}
]},
{"width":305,"height":242,"layer":[
 {"data":{"name":"male_size"},"transform":[{"fold":["p3","p10","p50","p90","p97"],"as":["pct","value"]}],
  "mark":{"type":"line","strokeWidth":1.3},
  "encoding":{
   "x":{"field":"week","type":"quantitative","scale":{"domain":[24,42],"nice":false,"zero":false},"axis":{"title":"Gestational age (wk)","values":[24,25,26,27,28,29,30,31,32,33,34,35,36,37,38,39,40,41,42],"format":"d","labelOverlap":false}},
   "y":{"field":"value","type":"quantitative","scale":{"domain":[15,60],"nice":false,"zero":false},"axis":{"title":"Birth length or head circumference (cm)","values":[15,20,25,30,35,40,45,50,55,60],"format":"d","labelExpr":"datum.value == 15 ? '5' : datum.label","titlePadding":4,"labelOverlap":false}},
   "color":{"field":"source","type":"nominal","title":null,"scale":{"domain":["China","INTERGROWTH-21st"],"range":["#f2232a","#2b2ff0"]},"legend":{"orient":"none","legendX":16,"legendY":6}},
   "strokeDash":{"field":"source","type":"nominal","title":null,"scale":{"domain":["China","INTERGROWTH-21st"],"range":[[1,0],[5,4]]},"legend":{"orient":"none","legendX":16,"legendY":6}},
   "detail":[{"field":"measure"},{"field":"segment"},{"field":"pct"}]}},
 {"data":{"values":[{}]},"mark":{"type":"rule","color":"#222","strokeWidth":1.2},"encoding":{"x":{"datum":33,"axis":{"title":"Gestational age (wk)","values":[24,25,26,27,28,29,30,31,32,33,34,35,36,37,38,39,40,41,42],"format":"d","labelOverlap":false}}}},
 {"data":{"name":"c_text"},"transform":[{"filter":"datum.kind == 'label'"}],"mark":{"type":"text","fontSize":12,"color":"#222"},
  "encoding":{"x":{"field":"week","type":"quantitative","axis":{"title":"Gestational age (wk)","values":[24,25,26,27,28,29,30,31,32,33,34,35,36,37,38,39,40,41,42],"format":"d","labelOverlap":false}},"y":{"field":"value","type":"quantitative","axis":{"title":"Birth length or head circumference (cm)","values":[15,20,25,30,35,40,45,50,55,60],"format":"d","labelExpr":"datum.value == 15 ? '5' : datum.label","titlePadding":4,"labelOverlap":false}},"text":{"field":"text"}}},
 {"data":{"name":"c_text"},"transform":[{"filter":"datum.kind == 'letter'"}],"mark":{"type":"text","fontSize":17,"fontWeight":"bold","color":"#111"},
  "encoding":{"x":{"field":"week","type":"quantitative","axis":{"title":"Gestational age (wk)","values":[24,25,26,27,28,29,30,31,32,33,34,35,36,37,38,39,40,41,42],"format":"d","labelOverlap":false}},"y":{"field":"value","type":"quantitative","axis":{"title":"Birth length or head circumference (cm)","values":[15,20,25,30,35,40,45,50,55,60],"format":"d","labelExpr":"datum.value == 15 ? '5' : datum.label","titlePadding":4,"labelOverlap":false}},"text":{"field":"text"}}}
]},
{"width":305,"height":242,"layer":[
 {"data":{"name":"female_size"},"transform":[{"fold":["p3","p10","p50","p90","p97"],"as":["pct","value"]}],
  "mark":{"type":"line","strokeWidth":1.3},
  "encoding":{
   "x":{"field":"week","type":"quantitative","scale":{"domain":[24,42],"nice":false,"zero":false},"axis":{"title":"Gestational age (wk)","values":[24,25,26,27,28,29,30,31,32,33,34,35,36,37,38,39,40,41,42],"format":"d","labelOverlap":false}},
   "y":{"field":"value","type":"quantitative","scale":{"domain":[15,60],"nice":false,"zero":false},"axis":{"title":null,"values":[15,20,25,30,35,40,45,50,55,60],"format":"d","labelExpr":"datum.value == 15 ? '5' : datum.label","labelOverlap":false}},
   "color":{"field":"source","type":"nominal","title":null,"scale":{"domain":["China","INTERGROWTH-21st"],"range":["#f2232a","#2b2ff0"]},"legend":{"orient":"none","legendX":16,"legendY":6}},
   "strokeDash":{"field":"source","type":"nominal","title":null,"scale":{"domain":["China","INTERGROWTH-21st"],"range":[[1,0],[5,4]]},"legend":{"orient":"none","legendX":16,"legendY":6}},
   "detail":[{"field":"measure"},{"field":"segment"},{"field":"pct"}]}},
 {"data":{"values":[{}]},"mark":{"type":"rule","color":"#222","strokeWidth":1.2},"encoding":{"x":{"datum":33,"axis":{"title":"Gestational age (wk)","values":[24,25,26,27,28,29,30,31,32,33,34,35,36,37,38,39,40,41,42],"format":"d","labelOverlap":false}}}},
 {"data":{"name":"d_text"},"transform":[{"filter":"datum.kind == 'label'"}],"mark":{"type":"text","fontSize":12,"color":"#222"},
  "encoding":{"x":{"field":"week","type":"quantitative","axis":{"title":"Gestational age (wk)","values":[24,25,26,27,28,29,30,31,32,33,34,35,36,37,38,39,40,41,42],"format":"d","labelOverlap":false}},"y":{"field":"value","type":"quantitative","axis":{"title":null,"values":[15,20,25,30,35,40,45,50,55,60],"format":"d","labelExpr":"datum.value == 15 ? '5' : datum.label","labelOverlap":false}},"text":{"field":"text"}}},
 {"data":{"name":"d_text"},"transform":[{"filter":"datum.kind == 'letter'"}],"mark":{"type":"text","fontSize":17,"fontWeight":"bold","color":"#111"},
  "encoding":{"x":{"field":"week","type":"quantitative","axis":{"title":"Gestational age (wk)","values":[24,25,26,27,28,29,30,31,32,33,34,35,36,37,38,39,40,41,42],"format":"d","labelOverlap":false}},"y":{"field":"value","type":"quantitative","axis":{"title":null,"values":[15,20,25,30,35,40,45,50,55,60],"format":"d","labelExpr":"datum.value == 15 ? '5' : datum.label","labelOverlap":false}},"text":{"field":"text"}}}
]}
]
}
